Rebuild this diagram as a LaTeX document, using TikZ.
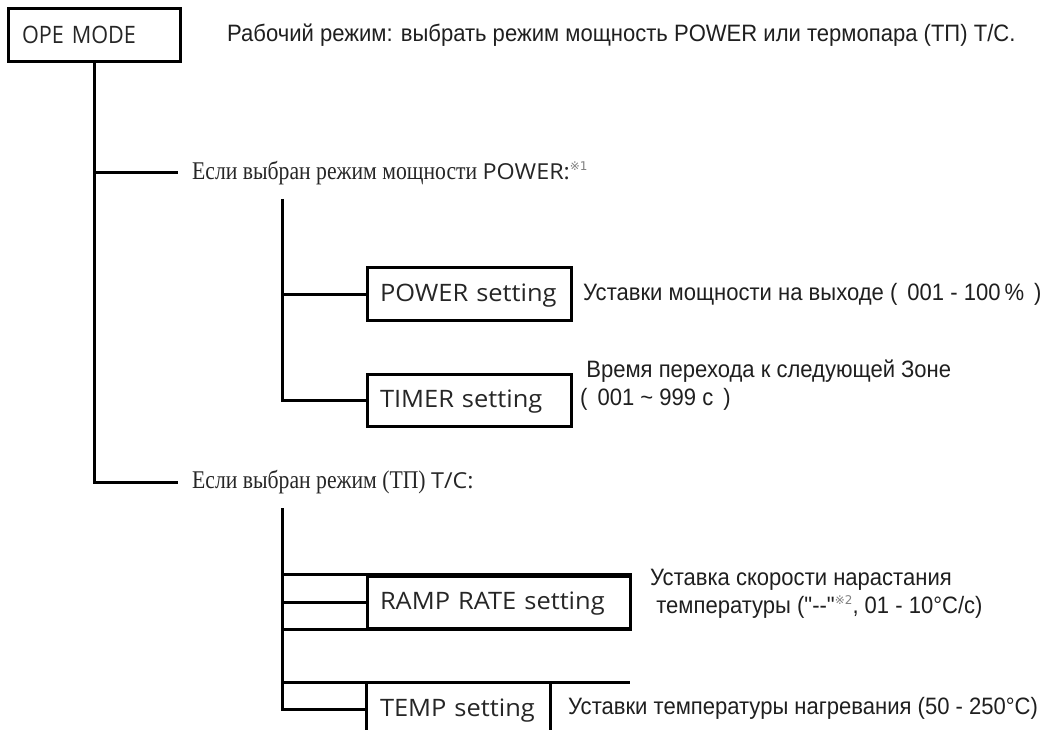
\documentclass[tikz,border=0pt]{standalone}
\usepackage{fontspec}
\setmainfont{Liberation Serif}
\newfontfamily\boxfont[FakeStretch=1.06]{Open Sans}
\newfontfamily\opefont[FakeStretch=0.9]{Open Sans}
\newfontfamily\descfont[FakeStretch=0.93]{Liberation Sans}
\newfontfamily\serfont[FakeStretch=0.85]{Liberation Serif}
\newfontfamily\refmark{DejaVu Sans}
\newcommand{\rmark}[1]{\raisebox{0.75ex}{\color{black!50}\refmark\fontsize{12}{12}\selectfont ※#1}}
\tikzset{
  ln/.style={line width=3pt},
  boxn/.style={draw, line width=3pt, inner ysep=0pt, inner xsep=13pt, align=left, text depth=2pt, font=\boxfont\fontsize{24}{28}\selectfont, text=black!85},
  desc/.style={inner sep=0pt, anchor=west, font=\descfont\fontsize{23.7}{28}\selectfont, text=black!88, align=left},
  ser/.style={inner sep=0pt, anchor=west, font=\serfont\fontsize{25.5}{28}\selectfont, text=black!85},
}
\begin{document}
\begin{tikzpicture}[x=1pt,y=-1pt]
\useasboundingbox (0,0) rectangle (1058,730);
% top box
\node[boxn, font=\opefont\fontsize{24}{28}\selectfont, inner xsep=14pt, text width=144pt, minimum height=53pt] (ope) at (94,35.5) {OPE MODE};
\node[desc] (opetxt) at (227,35) {Рабочий режим: выбрать режим мощность POWER или термопара (ТП) Т/С.};
% branch labels
\node[ser] (b1) at (192,173) {Если выбран режим мощности {\boxfont\fontsize{22}{26}\selectfont POWER:}\rmark{1}};
\node[ser] (b2) at (192,482) {Если выбран режим (ТП) {\boxfont\fontsize{22}{26}\selectfont T/C:}};
\draw[ln] (ope.south) |- ([xshift=-14pt]b2.west);
\draw[ln] (ope.south |- b1.west) -- ([xshift=-14pt]b1.west);
% POWER branch
\coordinate (v1) at (282,199);
\node[boxn, text width=178pt, minimum height=52pt] (pw) at (469,294) {POWER setting};
\node[boxn, text width=178pt, minimum height=52pt] (tm) at (469,400) {TIMER setting};
\draw[ln] (v1) |- (tm.west);
\draw[ln] (v1 |- pw.west) -- (pw.west);
\node[desc] (pwtxt) at (583,294) {Уставки мощности на выходе (\, 001 - 100\,\% \,)};
\node[desc] (tmtxt) at (580,385) {\ Время перехода к следующей Зоне\\(\, 001 \textasciitilde{} 999 с \,)};
% T/C branch
\coordinate (v2) at (282,508);
\node[boxn, text width=237pt, minimum height=52pt] (rr) at (498.5,602) {RAMP RATE setting};
\node[inner ysep=0pt, inner xsep=13pt, text width=157pt, align=left, text depth=2pt, minimum height=54pt, font=\boxfont\fontsize{24}{28}\selectfont, text=black!85] (tp) at (458.5,709) {TEMP setting};
\coordinate (tpend) at (630,682);
\draw[ln] (v2) |- (tp.west);
\draw[ln] (v2 |- rr.north) -- (rr.north east);
\draw[ln] (v2 |- rr.south) -- (rr.south east);
\draw[ln] (v2 |- rr.west) -- (rr.west);
\draw[ln] (v2 |- tpend) -- (tpend);
\draw[ln] (tp.north west) -- (tp.south west);
\draw[ln] (tp.north east) -- (tp.south east);
\node[desc] (rrtxt) at (650,594) {Уставка скорости нарастания\\ \ температуры ("--"\rmark{2}, 01 - 10°C/c)};
\node[desc] (tptxt) at (568,708) {Уставки температуры нагревания (50 - 250°C)};
\end{tikzpicture}
\end{document}
